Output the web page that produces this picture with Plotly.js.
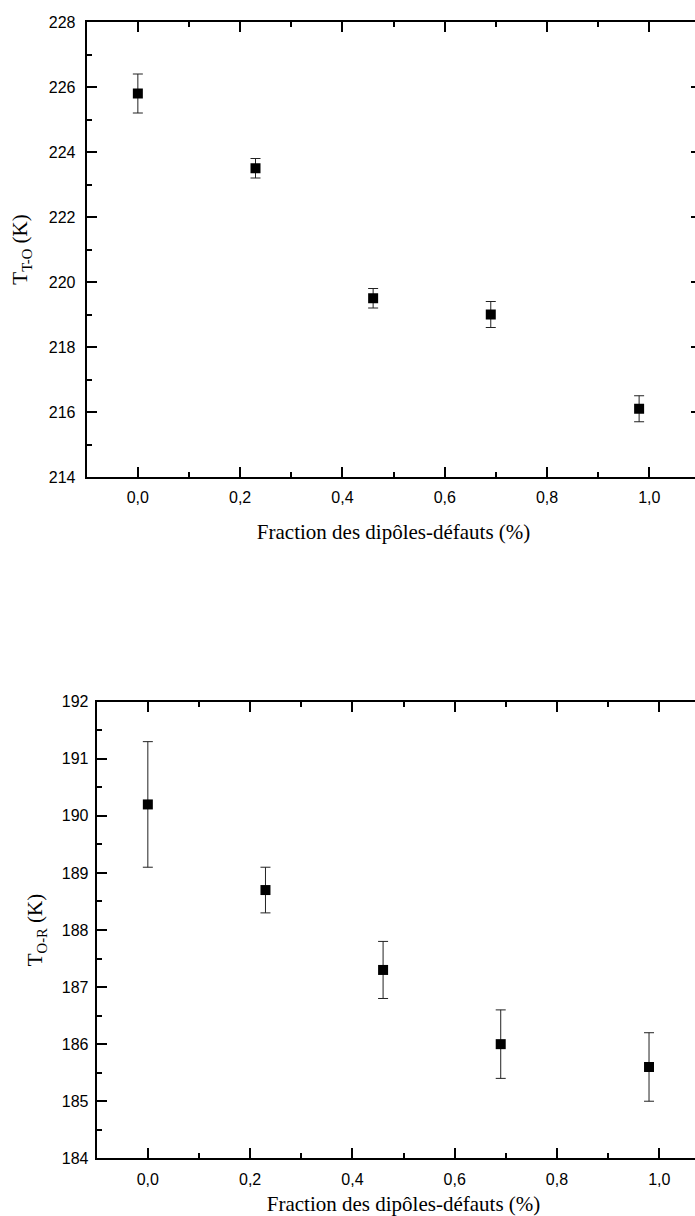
<!DOCTYPE html>
<html>
<head>
<meta charset="utf-8">
<script src="https://cdn.plot.ly/plotly-3.0.1.min.js"></script>
<style>
html,body{margin:0;padding:0;overflow:hidden;background:#fff;}
#chart{width:720px;height:1216px;}
</style>
</head>
<body>
<div id="chart"></div>
<script>
// Data
const fraction = [0.0, 0.23, 0.46, 0.69, 0.98];
const tTO = [225.8, 223.5, 219.5, 219.0, 216.1];
const tTOErr = [0.6, 0.3, 0.3, 0.4, 0.4];
const tOR = [190.2, 188.7, 187.3, 186.0, 185.6];
const tORErr = [1.1, 0.4, 0.5, 0.6, 0.6];
const xTitle = 'Fraction des dipôles-défauts (%)';
const yTitleTop = 'T<sub>T-O</sub> (K)';
const yTitleBottom = 'T<sub>O-R</sub> (K)';

const W = 720, H = 1216;
const tickFont = {family: '"Liberation Sans", Arial, Helvetica, sans-serif', size: 16, color: '#000'};
const titleFont = {family: '"Liberation Serif", "Times New Roman", Times, serif', size: 21, color: '#000'};

function axisCommon(extra) {
  return Object.assign({
    showline: true, linecolor: '#000', linewidth: 2, mirror: 'ticks',
    ticks: 'inside', ticklen: 10, tickwidth: 2, tickcolor: '#000',
    showgrid: false, zeroline: false, tickfont: tickFont
  }, extra);
}

const marker = {symbol: 'square', size: 10, color: '#000'};

const traces = [
  {
    x: fraction, y: tTO, type: 'scatter', mode: 'markers', marker: marker,
    error_y: {type: 'data', array: tTOErr, visible: true, color: '#222', thickness: 1, width: 5},
    xaxis: 'x', yaxis: 'y', showlegend: false, cliponaxis: false
  },
  {
    x: fraction, y: tOR, type: 'scatter', mode: 'markers', marker: marker,
    error_y: {type: 'data', array: tORErr, visible: true, color: '#222', thickness: 1, width: 5},
    xaxis: 'x2', yaxis: 'y2', showlegend: false, cliponaxis: false
  }
];

const layout = {
  width: W, height: H,
  margin: {l: 0, r: 0, t: 0, b: 0},
  paper_bgcolor: '#fff', plot_bgcolor: '#fff',
  separators: ', ',
  showlegend: false,
  font: {family: '"Liberation Sans", Arial, sans-serif', color: '#000'},
  xaxis: axisCommon({
    domain: [86.7 / W, 700.5 / W], range: [-0.1, 1.1],
    tickmode: 'linear', tick0: 0, dtick: 0.2, tickformat: '.1f',
    ticklabelstandoff: 5,
    minor: {ticks: 'inside', ticklen: 5, tickwidth: 2, tickcolor: '#000', dtick: 0.1, tick0: 0, showgrid: false},
    anchor: 'y',
    title: {text: xTitle, font: titleFont, standoff: 19}
  }),
  yaxis: axisCommon({
    domain: [1 - 477 / H, 1 - 22 / H], range: [214, 228],
    tickmode: 'linear', tick0: 214, dtick: 2,
    ticklabelstandoff: 6,
    minor: {ticks: 'inside', ticklen: 5, tickwidth: 2, tickcolor: '#000', dtick: 1, tick0: 214, showgrid: false},
    anchor: 'x',
    title: {text: yTitleTop, font: titleFont, standoff: 15}
  }),
  xaxis2: axisCommon({
    domain: [96.7 / W, 710.4 / W], range: [-0.1, 1.1],
    tickmode: 'linear', tick0: 0, dtick: 0.2, tickformat: '.1f',
    ticklabelstandoff: 5,
    minor: {ticks: 'inside', ticklen: 5, tickwidth: 2, tickcolor: '#000', dtick: 0.1, tick0: 0, showgrid: false},
    anchor: 'y2',
    title: {text: xTitle, font: titleFont, standoff: 15}
  }),
  yaxis2: axisCommon({
    domain: [1 - 1158.3 / H, 1 - 701.7 / H], range: [184, 192],
    tickmode: 'linear', tick0: 184, dtick: 1,
    ticklabelstandoff: 3,
    minor: {ticks: 'inside', ticklen: 5, tickwidth: 2, tickcolor: '#000', dtick: 0.5, tick0: 184, showgrid: false},
    anchor: 'x2',
    title: {text: yTitleBottom, font: titleFont, standoff: 13}
  })
};

Plotly.newPlot('chart', traces, layout, {displayModeBar: false, staticPlot: true});
</script>
</body>
</html>
